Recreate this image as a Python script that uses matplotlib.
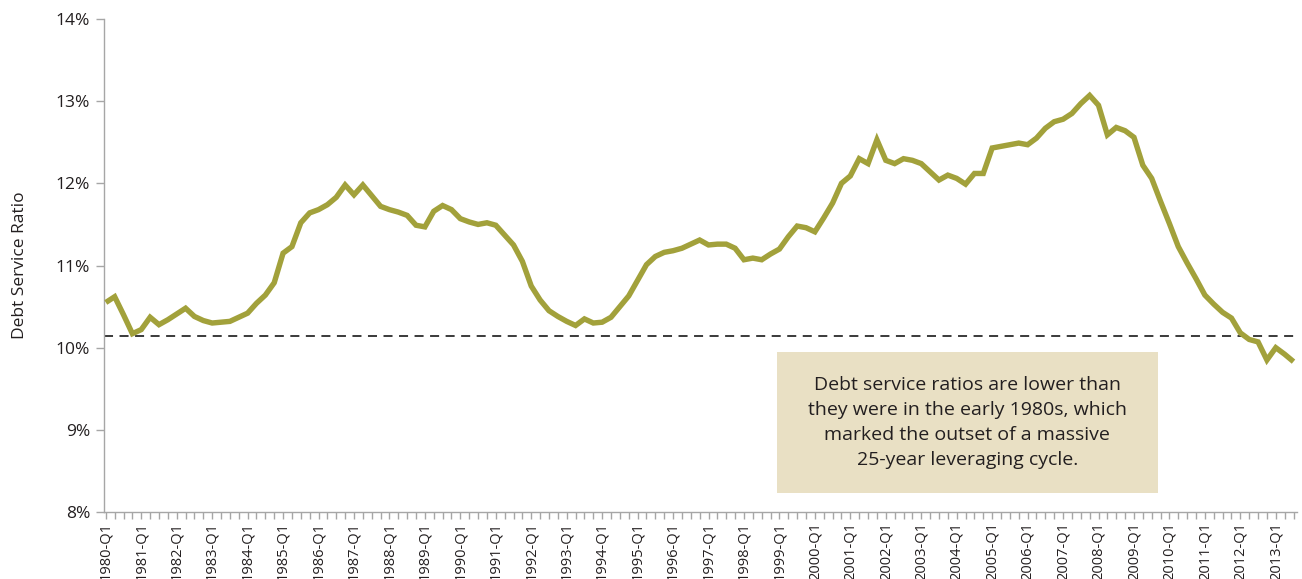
import matplotlib
matplotlib.use("Agg")
import matplotlib.pyplot as plt
from matplotlib.patches import Rectangle
from matplotlib.ticker import FuncFormatter

plt.rcParams['font.family'] = ['Open Sans', 'DejaVu Sans']

# quarterly categories 1980-Q1 .. 2013-Q3
years = list(range(1980, 2014))
quarters = [f"{y}-Q{q}" for y in years for q in range(1, 5)][:135]

# household debt service ratio (%)
dsr = [10.55, 10.62, 10.40, 10.17, 10.22, 10.37, 10.28, 10.34, 10.41, 10.48,
       10.38, 10.33, 10.30, 10.31, 10.32, 10.37, 10.42, 10.54, 10.64, 10.79,
       11.15, 11.23, 11.52, 11.64, 11.68, 11.74, 11.83, 11.98, 11.86, 11.98,
       11.85, 11.72, 11.68, 11.65, 11.61, 11.49, 11.47, 11.66, 11.73, 11.68,
       11.57, 11.53, 11.50, 11.52, 11.49, 11.37, 11.25, 11.05, 10.75, 10.58,
       10.45, 10.38, 10.32, 10.27, 10.35, 10.30, 10.31, 10.37, 10.50, 10.63,
       10.82, 11.01, 11.11, 11.16, 11.18, 11.21, 11.26, 11.31, 11.25, 11.26,
       11.26, 11.21, 11.07, 11.09, 11.07, 11.14, 11.20, 11.35, 11.48, 11.46,
       11.41, 11.58, 11.76, 12.00, 12.09, 12.30, 12.24, 12.53, 12.28, 12.24,
       12.30, 12.28, 12.24, 12.14, 12.04, 12.10, 12.06, 11.99, 12.12, 12.12,
       12.43, 12.45, 12.47, 12.49, 12.47, 12.55, 12.67, 12.75, 12.78, 12.85,
       12.97, 13.07, 12.95, 12.59, 12.68, 12.64, 12.56, 12.22, 12.06, 11.78,
       11.51, 11.23, 11.03, 10.84, 10.64, 10.53, 10.43, 10.36, 10.18, 10.10,
       10.07, 9.85, 10.00, 9.92, 9.83]

early80s_level = 10.14
note = ("Debt service ratios are lower than\n"
        "they were in the early 1980s, which\n"
        "marked the outset of a massive\n"
        "25-year leveraging cycle.")

text_col = '#231f20'
axis_col = '#a6a6a6'

fig = plt.figure(figsize=(13.02, 5.79), dpi=100)
ax = fig.add_axes([0.0799, 0.1157, 0.9163, 0.8515])

x = list(range(len(dsr)))
ax.plot(x, dsr, color='#a2a13b', lw=3.9, solid_joinstyle='miter',
        solid_capstyle='butt', zorder=3)
ax.axhline(early80s_level, color='#2b2b2b', lw=1.3, dashes=(5, 3.6), zorder=2)

ax.set_xlim(-0.2, len(dsr) - 0.6)
ax.set_ylim(8, 14)
ax.set_yticks(range(8, 15))
ax.yaxis.set_major_formatter(FuncFormatter(lambda v, p: f"{v:.0f}%"))

major = [i for i, q in enumerate(quarters) if q.endswith('Q1')]
ax.set_xticks(major)
ax.set_xticklabels([quarters[i] for i in major], rotation=90, fontsize=10.5,
                   color=text_col)
ax.set_xticks(x, minor=True)

for s in ['top', 'right']:
    ax.spines[s].set_visible(False)
for s in ['left', 'bottom']:
    ax.spines[s].set_color(axis_col)
    ax.spines[s].set_linewidth(1.0)

ax.tick_params(axis='y', colors=axis_col, labelcolor=text_col, labelsize=12.5,
               length=6, width=1.0, pad=4)
ax.tick_params(axis='x', which='both', colors=axis_col, labelcolor=text_col,
               length=5, width=1.0, pad=2)

ax.set_ylabel('Debt Service Ratio', fontsize=12.5, color=text_col, labelpad=20)

# note box
ax.add_patch(Rectangle((0.564, 0.0385), 0.3195, 0.286, transform=ax.transAxes,
                       facecolor='#e9e0c4', edgecolor='none', zorder=1))
ax.text(0.7236, 0.1815, note, transform=ax.transAxes, ha='center', va='center',
        fontsize=14, color=text_col, linespacing=1.5, zorder=4)

fig.savefig('out.png', dpi=100)
